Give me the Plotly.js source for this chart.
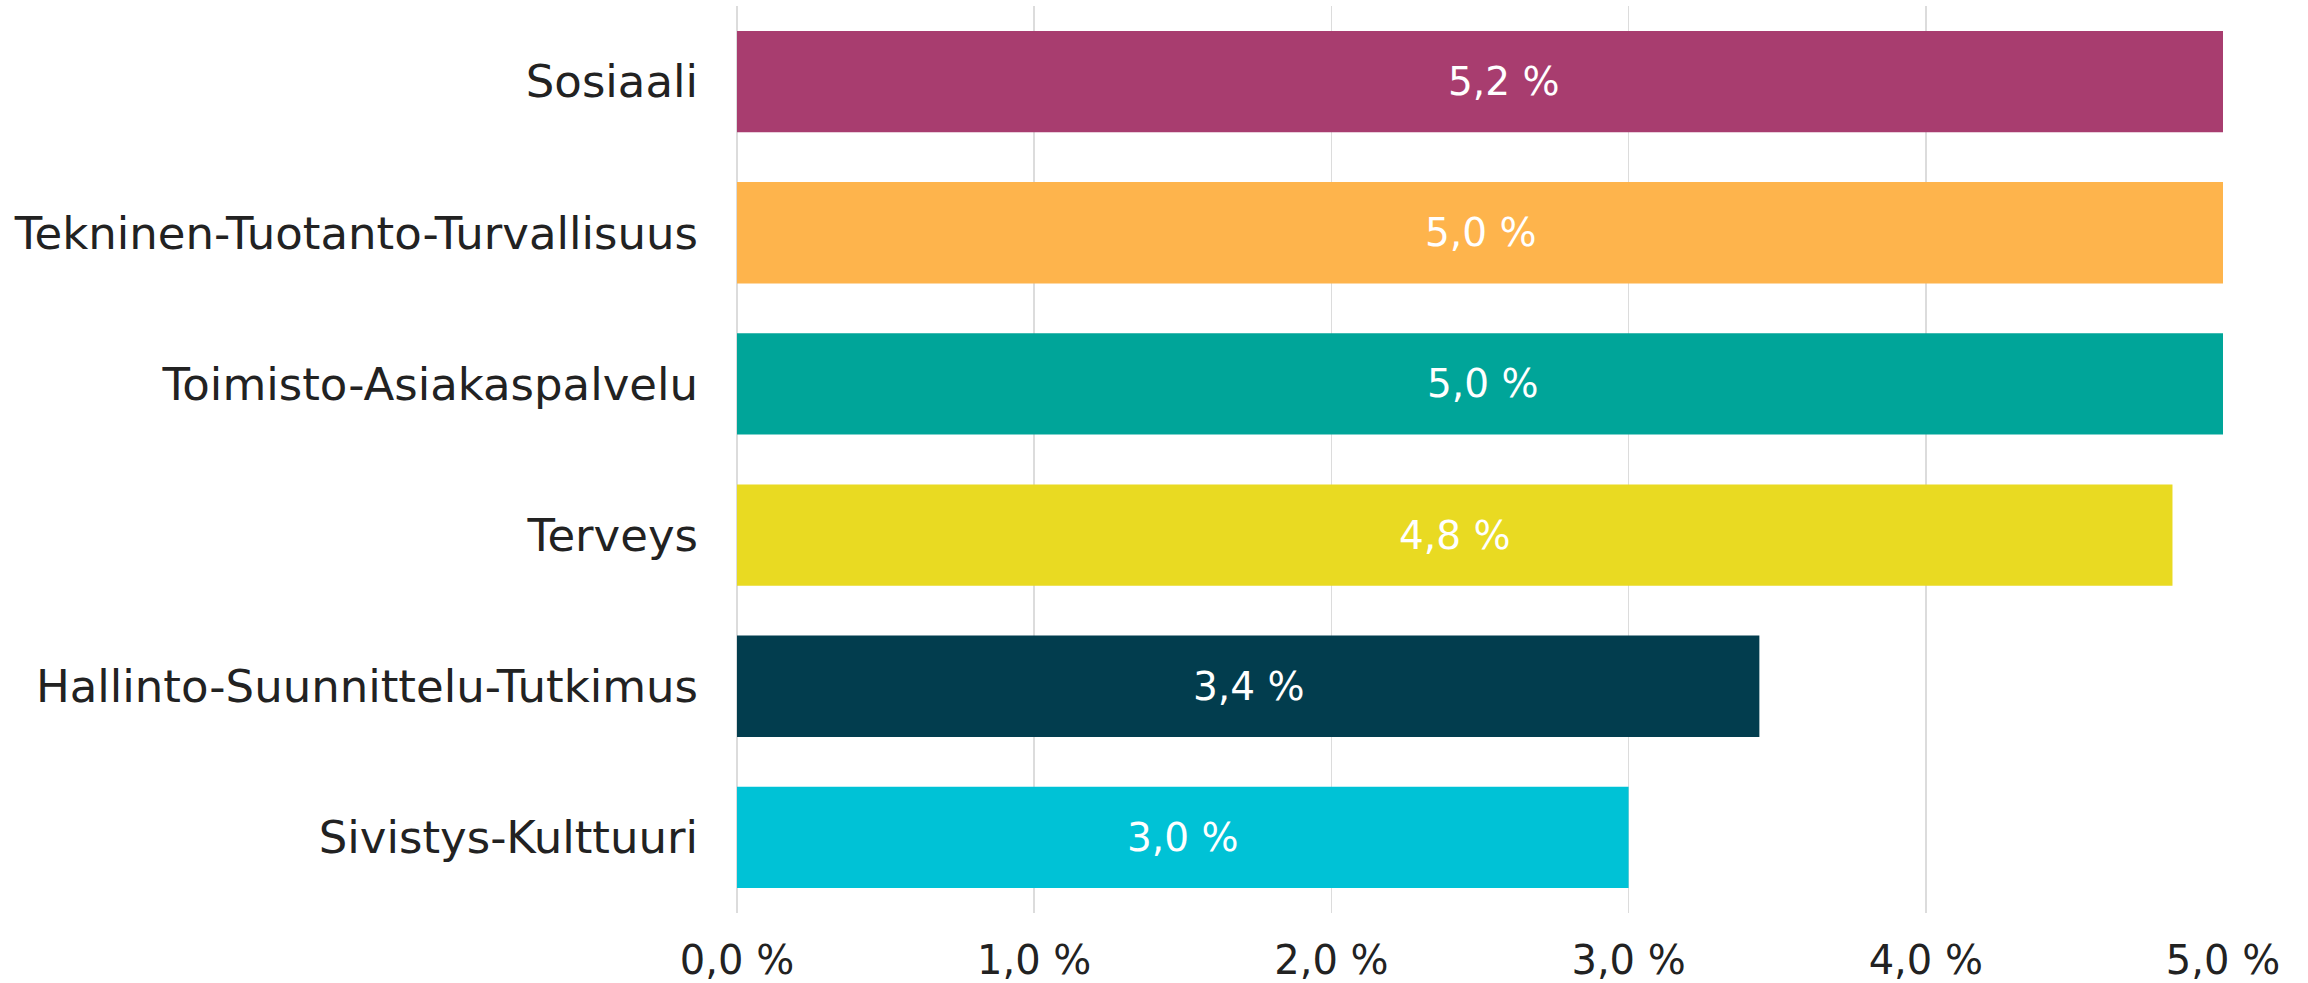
<!DOCTYPE html>
<html>
<head>
<meta charset="utf-8">
<script src="https://cdn.plot.ly/plotly-3.0.1.min.js"></script>
<style>
  html, body { margin: 0; padding: 0; background: #ffffff; }
  #chart { width: 2308px; height: 983px; }
</style>
</head>
<body>
<div id="chart"></div>
<script>
// Categories, top to bottom
const categories = [
  "Sosiaali",
  "Tekninen-Tuotanto-Turvallisuus",
  "Toimisto-Asiakaspalvelu",
  "Terveys",
  "Hallinto-Suunnittelu-Tutkimus",
  "Sivistys-Kulttuuri"
];
// Values in percent
const values = [5.16, 5.0, 5.02, 4.83, 3.44, 3.0];
const barColors = ["#A83D6F", "#FEB44C", "#00A599", "#E9DA22", "#023D4E", "#00C2D6"];
const tickValues = [0, 1, 2, 3, 4, 5];

const fmt = v => v.toFixed(1).replace(".", ",") + " %";
const tickLabels = tickValues.map(fmt);

const FONT = "DejaVu Sans, Verdana, sans-serif";

const trace = {
  type: "bar",
  orientation: "h",
  y: categories,
  x: values,
  width: 0.67,
  marker: { color: barColors, line: { width: 0 } },
  hoverinfo: "none",
  cliponaxis: true
};

const annotations = categories.map((c, i) => ({
  x: values[i] / 2,
  y: c,
  xref: "x",
  yref: "y",
  text: fmt(values[i]),
  showarrow: false,
  font: { family: FONT, size: 39, color: "#ffffff" },
  xanchor: "center",
  yanchor: "middle"
}));

const layout = {
  width: 2308,
  height: 983,
  margin: { l: 737, r: 85, t: 6, b: 70, pad: 0 },
  paper_bgcolor: "#ffffff",
  plot_bgcolor: "#ffffff",
  showlegend: false,
  font: { family: FONT, color: "#222222" },
  xaxis: {
    range: [0, 5],
    tickvals: tickValues,
    ticktext: tickLabels,
    tickfont: { family: FONT, size: 40, color: "#222222" },
    showgrid: true,
    gridcolor: "#dcdcdc",
    gridwidth: 1.5,
    zeroline: true,
    zerolinecolor: "#dcdcdc",
    zerolinewidth: 1.5,
    showline: false,
    ticks: "",
    ticklabelstandoff: 20,
    fixedrange: true
  },
  yaxis: {
    type: "category",
    categoryorder: "array",
    categoryarray: categories,
    range: [5.5, -0.5],
    tickfont: { family: FONT, size: 45, color: "#222222" },
    showgrid: false,
    zeroline: false,
    showline: false,
    ticks: "",
    ticklabelstandoff: 38,
    fixedrange: true
  },
  annotations: annotations
};

Plotly.newPlot("chart", [trace], layout, { displayModeBar: false, staticPlot: true });
</script>
</body>
</html>
